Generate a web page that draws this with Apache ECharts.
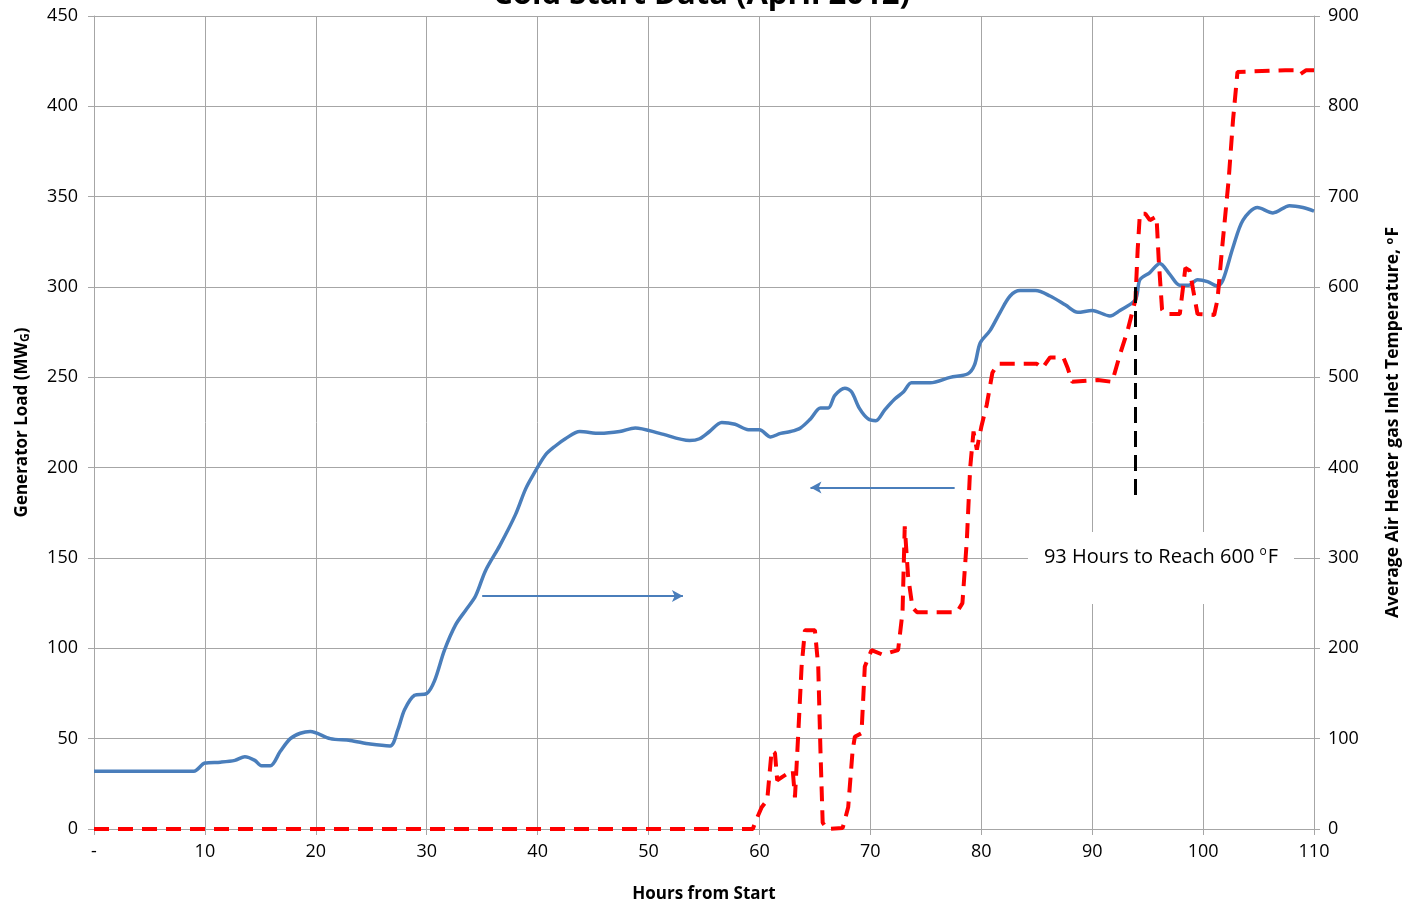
<!DOCTYPE html>
<html>
<head>
<meta charset="utf-8">
<script src="https://cdn.jsdelivr.net/npm/echarts@6/dist/echarts.min.js"></script>
<style>
  html, body { margin: 0; padding: 0; background: #fff; }
  #chart { width: 1403px; height: 904px; }
</style>
</head>
<body>
<div id="chart"></div>
<script>
// generator load (MW), left axis
var loadHours = [0, 9, 10, 11.4, 12.7, 13.6, 14.5, 15.1, 15.9, 16.8, 17.7, 18.6, 19.5, 21.3, 23.1, 24.9, 26.7, 27.4, 28, 28.9, 30,
  30.7, 31.6, 32.6, 33.5, 34.4, 35.3, 36.6, 38, 38.9, 39.6, 40.7, 41.6, 42.5, 43.8, 45.6, 47.4, 48.8, 51, 53.7, 54.6, 55.5,
  56.6, 57.8, 59, 60, 61, 61.9, 62.8, 63.7, 64.6, 65.5, 66.2, 66.8, 67.7, 68.3, 69, 69.8, 70.5, 71.3, 72.2, 73, 73.7, 75.4,
  77.2, 78.8, 79.4, 79.9, 80.8, 81.7, 82.6, 83.5, 84.9, 86.2, 87.6, 88.7, 90, 91.6, 92.5, 93.9, 94.3, 95.2, 96.1, 97, 97.9,
  98.7, 99.5, 100.4, 101.3, 101.8, 102.7, 103.6, 104.9, 106.3, 107.8, 109, 110];
var loadValues = [32, 32, 36.5, 37, 38, 40, 38, 35, 35, 43, 50, 53, 54, 50, 49, 47, 46, 55, 66, 74, 75,
  82, 99, 113, 121, 129, 143, 157, 174, 188, 196, 207, 212, 216, 220, 219, 220, 222, 219, 215, 216, 220,
  225, 224, 221, 221, 217, 219, 220, 222, 227, 233, 233, 240, 244, 242, 233, 227, 226, 232, 238, 242, 247, 247,
  250, 252, 257, 269, 276, 286, 295, 298, 298, 295, 290, 286, 287, 284, 287, 293, 304, 308, 313, 307, 301,
  301, 304, 303, 300.5, 304, 322, 337, 344, 341, 345, 344, 342];

// air heater gas inlet temperature (F), right axis
var tempHours = [0, 59.4, 59.7, 60.2, 60.7, 61.1, 61.4, 61.6, 62.1, 63.0, 63.2, 63.5, 63.8, 64.1, 65.0, 65.3, 65.5, 65.7, 66.1,
  67.5, 68.0, 68.4, 68.6, 69.2, 69.5, 70.1, 71.1, 72.5, 72.9, 73.1, 73.4, 73.8, 74.2, 77.8, 78.3, 78.7, 79.0, 79.3, 79.6,
  80.0, 80.5, 81.0, 81.5, 85.0, 85.5, 86.2, 87.4, 87.8, 88.2, 90.5, 91.8, 92.5, 93.2, 93.9, 94.1, 94.3, 94.8, 95.2, 95.8,
  96.0, 96.3, 96.6, 97.9, 98.4, 98.8, 99.1, 99.5, 101.0, 101.3, 101.7, 102.3, 102.7, 103.1, 107.4, 108.2, 108.7, 109.3, 110];
var tempValues = [0, 0, 10, 24, 32, 87, 84, 54, 58, 65, 35, 106, 180, 220, 220, 180, 87, 7, 0,
  1, 24, 87, 102, 106, 180, 198, 193, 198, 240, 335, 280, 245, 240, 240, 250, 320, 400, 440, 420,
  445, 470, 505, 515, 515, 510, 522, 522, 510, 495, 497, 495, 525, 552, 586, 641, 681, 681, 674, 678,
  630, 575, 570, 570, 621, 618, 597, 570, 569, 586, 641, 718, 785, 838, 840, 840, 835, 840, 840];

// annotations
var rightArrow = [[35, 129], [53.1, 129]];
var leftArrow = [[77.6, 189], [64.6, 189]];
var reachLine = [[93.9, 600], [93.9, 364]];
var xTicks = { 0: '-' };

var blue = '#4a7ebb';
var font = 'Open Sans';

var chart = echarts.init(document.getElementById('chart'));

var loadData = loadHours.map(function (h, i) { return [h, loadValues[i]]; });
var tempData = tempHours.map(function (h, i) { return [h, tempValues[i]]; });

var option = {
  backgroundColor: '#fff',
  animation: false,
  title: {
    text: 'Cold Start Data (April 2012)',
    left: 'center',
    top: -25,
    textStyle: { fontFamily: font, fontSize: 31, fontWeight: 'bold', color: '#000' }
  },
  grid: { left: 94, right: 89, top: 16, bottom: 75, outerBoundsMode: 'none' },
  xAxis: {
    type: 'value',
    min: 0,
    max: 110,
    interval: 10,
    name: 'Hours from Start',
    nameLocation: 'middle',
    nameGap: 57,
    nameTextStyle: { fontFamily: font, fontSize: 17, fontWeight: 'bold', color: '#000' },
    axisLine: { lineStyle: { color: '#a6a6a6', width: 1 } },
    axisTick: { show: true, length: 6, lineStyle: { color: '#a6a6a6' } },
    axisLabel: {
      fontFamily: font, fontSize: 18, color: '#000', margin: 14,
      formatter: function (v) { return xTicks[v] !== undefined ? xTicks[v] : v; }
    },
    splitLine: { show: true, lineStyle: { color: '#a6a6a6', width: 1 } }
  },
  yAxis: [{
    type: 'value',
    min: 0,
    max: 450,
    interval: 50,
    position: 'left',
    name: '{b|Generator Load (MW}{s|G}{b|)}',
    nameLocation: 'middle',
    nameGap: 62,
    nameRotate: 90,
    nameTextStyle: {
      rich: {
        b: { fontFamily: font, fontSize: 17, fontWeight: 'bold', color: '#000' },
        s: { fontFamily: font, fontSize: 12, fontWeight: 'bold', color: '#000', padding: [8, 0, 0, 0] }
      }
    },
    axisLine: { show: true, lineStyle: { color: '#a6a6a6' } },
    axisTick: { show: true, length: 6, lineStyle: { color: '#a6a6a6' } },
    axisLabel: { fontFamily: font, fontSize: 18, color: '#000', margin: 16 },
    splitLine: { show: true, lineStyle: { color: '#a6a6a6', width: 1 } }
  }, {
    type: 'value',
    min: 0,
    max: 900,
    interval: 100,
    position: 'right',
    name: '{b|Average Air Heater gas Inlet Temperature, }{s|o}{b|F}',
    nameLocation: 'middle',
    nameGap: 70,
    nameRotate: 90,
    nameTextStyle: {
      rich: {
        b: { fontFamily: font, fontSize: 17.5, fontWeight: 'bold', color: '#000' },
        s: { fontFamily: font, fontSize: 11, fontWeight: 'bold', color: '#000', padding: [0, 1, 8, 0] }
      }
    },
    axisLine: { show: true, lineStyle: { color: '#a6a6a6' } },
    axisTick: { show: true, length: 6, lineStyle: { color: '#a6a6a6' } },
    axisLabel: { fontFamily: font, fontSize: 18, color: '#000', margin: 14 },
    splitLine: { show: false }
  }],
  series: [{
    name: 'Generator Load',
    type: 'line',
    yAxisIndex: 0,
    data: loadData,
    smooth: 0.3,
    showSymbol: false,
    lineStyle: { color: blue, width: 3.5 },
    z: 3,
    markLine: {
      silent: true,
      symbol: ['none', 'arrow'],
      symbolSize: [9, 11],
      label: { show: false },
      lineStyle: { color: blue, width: 2, type: 'solid' },
      data: [
        [{ coord: rightArrow[0] }, { coord: rightArrow[1] }],
        [{ coord: leftArrow[0] }, { coord: leftArrow[1] }]
      ]
    }
  }, {
    name: 'Gas Inlet Temperature',
    type: 'line',
    yAxisIndex: 1,
    data: tempData,
    showSymbol: false,
    lineStyle: { color: '#ff0000', width: 4, type: [15, 9] },
    z: 4,
    markLine: {
      silent: true,
      symbol: ['none', 'none'],
      label: { show: false },
      lineStyle: { color: '#000', width: 3, type: [16, 8] },
      data: [[{ coord: reachLine[0] }, { coord: reachLine[1] }]]
    }
  }],
  graphic: [{
    type: 'rect',
    shape: { x: 1028, y: 532, width: 266, height: 72 },
    style: { fill: '#fff' },
    z: 100
  }, {
    type: 'text',
    x: 1161,
    y: 557,
    z: 101,
    style: {
      text: '{t|93 Hours to Reach 600 }{s|o}{t|F}',
      align: 'center',
      verticalAlign: 'middle',
      rich: {
        t: { fontFamily: font, fontSize: 20, fill: '#000' },
        s: { fontFamily: font, fontSize: 12, fill: '#000', padding: [0, 1, 10, 0] }
      }
    }
  }]
};

chart.setOption(option);
window.onresize = function () { chart.resize(); };
</script>
</body>
</html>
